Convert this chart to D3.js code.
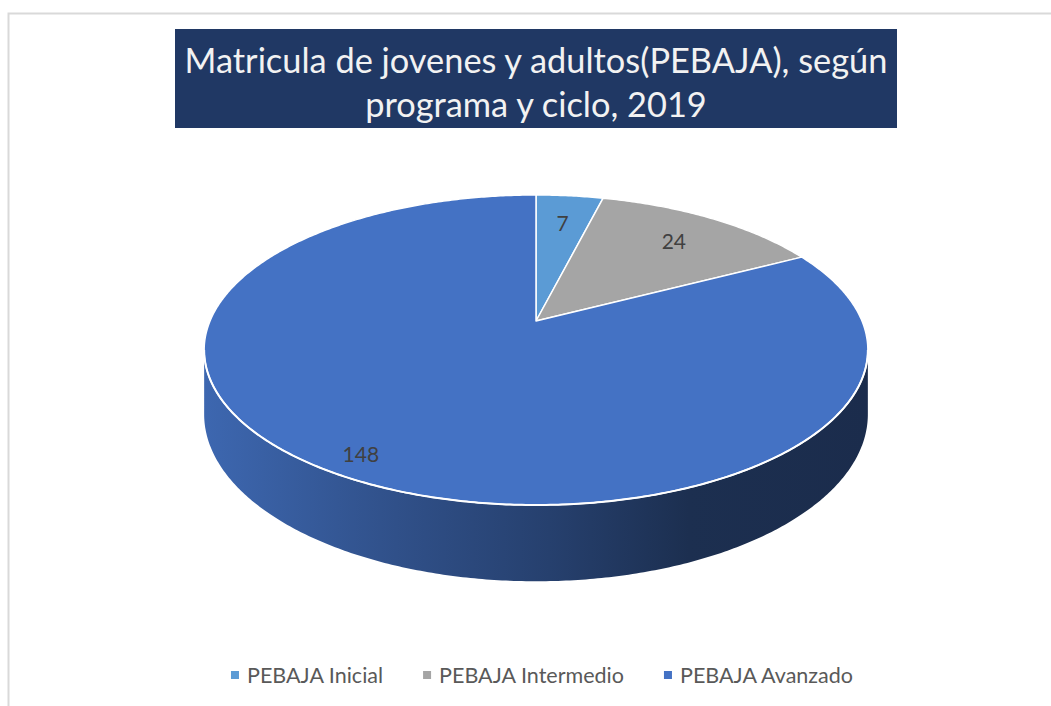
<!DOCTYPE html>
<html>
<head>
<meta charset="utf-8">
<script src="https://cdn.jsdelivr.net/npm/d3@7"></script>
<style>
  html, body { margin: 0; padding: 0; background: #ffffff; }
  svg { display: block; }
</style>
</head>
<body>
<script>
// Enrolment by programme and cycle, 2019
const categories = ["PEBAJA Inicial", "PEBAJA Intermedio", "PEBAJA Avanzado"];
const values = [7, 24, 148];
const colors = ["#5B9BD5", "#A5A5A5", "#4472C4"];
const titleLines = ["Matricula de jovenes y adultos(PEBAJA), según", "programa y ciclo, 2019"];

const W = 1051, H = 706;
const FONT = "Lato, 'Open Sans', 'DejaVu Sans', sans-serif";

const svg = d3.select("body").append("svg")
  .attr("width", W).attr("height", H);

svg.append("rect").attr("width", W).attr("height", H).attr("fill", "#ffffff");

// chart-area frame (top and left edges)
svg.append("path")
  .attr("d", `M8.5,${H} L8.5,13.5 L${W},13.5`)
  .attr("fill", "none").attr("stroke", "#d9d9d9").attr("stroke-width", 2);

// ---- title ----
const tb = { x: 175, y: 29, w: 722, h: 99 };
svg.append("rect")
  .attr("x", tb.x).attr("y", tb.y).attr("width", tb.w).attr("height", tb.h)
  .attr("fill", "#203864");

const titleG = svg.append("g");
const titleText = titleG.selectAll("text").data(titleLines).join("text")
  .attr("x", 536)
  .attr("y", (d, i) => 73 + i * 44)
  .attr("text-anchor", "middle")
  .attr("fill", "#F2F2F2")
  .style("font-family", FONT)
  .style("font-size", "32px")
  .text(d => d);
// size the title so the first line spans the banner
{
  const n = titleText.nodes()[0];
  const w = n.getComputedTextLength();
  const fs = 32 * 703 / w;
  titleText.style("font-size", fs + "px");
}

// ---- 3D pie geometry (projective view of a tilted disc) ----
const cx = 536, cy = 321;
const A = 326, B = 149.6, k = 0.187, depth = 62;

function proj(r, t, h) {
  const X = r * Math.sin(t), Z = -r * Math.cos(t);
  const w = 1 - k * Z;
  return [cx + A * X / w, cy + (B * Z + depth * h) / w];
}

const pie = d3.pie().sort(null).value(d => d.value);
const data = categories.map((c, i) => ({ name: c, value: values[i], color: colors[i] }));
const arcs = pie(data);
const total = d3.sum(values);

const line = d3.line();
function arcPoints(a0, a1, r, h) {
  const n = Math.max(2, Math.ceil(Math.abs(a1 - a0) / 0.01));
  return d3.range(n + 1).map(i => proj(r, a0 + (a1 - a0) * i / n, h));
}

// silhouette angles where the visible wall begins and ends
const tL = Math.acos(-k), tR = 2 * Math.PI - Math.acos(-k);

// wall shading: slice colour scaled down from left (lit) to right (shadow)
function shade(hex, f) {
  const c = d3.rgb(hex);
  return d3.rgb(c.r * f, c.g * f, c.b * f).formatHex();
}
const shadeStops = [[0, 0.90], [0.29, 0.70], [0.52, 0.56], [0.73, 0.41], [1, 0.39]];

const defs = svg.append("defs");
arcs.forEach((d, i) => {
  const g = defs.append("linearGradient")
    .attr("id", "side" + i)
    .attr("gradientUnits", "userSpaceOnUse")
    .attr("x1", cx - A * 1.02).attr("x2", cx + A * 1.02)
    .attr("y1", 0).attr("y2", 0);
  shadeStops.forEach(([o, f]) =>
    g.append("stop").attr("offset", o).attr("stop-color", shade(d.data.color, f)));
});

// walls
const sideG = svg.append("g");
arcs.forEach((d, i) => {
  const s = Math.max(d.startAngle, tL), e = Math.min(d.endAngle, tR);
  if (s >= e) return;
  const pts = arcPoints(s, e, 1, 0).concat(arcPoints(e, s, 1, 1));
  sideG.append("path")
    .attr("d", line(pts) + "Z")
    .attr("fill", `url(#side${i})`);
});

// top faces
const topG = svg.append("g");
topG.selectAll("path").data(arcs).join("path")
  .attr("d", d => line([proj(0, 0, 0)].concat(arcPoints(d.startAngle, d.endAngle, 1, 0))) + "Z")
  .attr("fill", d => d.data.color)
  .attr("stroke", "#ffffff")
  .attr("stroke-width", 1.5)
  .attr("stroke-linejoin", "round");

// light rim along the front edge
svg.append("path")
  .attr("d", line(arcPoints(tL, tR, 1, 0)))
  .attr("fill", "none")
  .attr("stroke", "#ffffff")
  .attr("stroke-width", 2);

// ---- data labels ----
const labelR = d => (d.value / total > 0.5 ? 0.89 : 0.76);
const labels = svg.append("g").selectAll("text").data(arcs).join("text")
  .attr("x", d => proj(labelR(d), (d.startAngle + d.endAngle) / 2, 0)[0])
  .attr("y", d => proj(labelR(d), (d.startAngle + d.endAngle) / 2, 0)[1])
  .attr("text-anchor", "middle")
  .attr("dominant-baseline", "central")
  .attr("fill", "#404040")
  .style("font-family", FONT)
  .style("font-size", "21px")
  .text(d => d.value);

// ---- legend ----
const legend = svg.append("g");
const items = legend.selectAll("g").data(data).join("g");
items.append("rect")
  .attr("width", 8).attr("height", 8)
  .attr("y", -4)
  .attr("fill", d => d.color);
const legText = items.append("text")
  .attr("x", 16)
  .attr("dominant-baseline", "central")
  .attr("fill", "#595959")
  .style("font-family", FONT)
  .style("font-size", "18px")
  .text(d => d.name);
{
  const n = legText.nodes()[1];
  const fs = 18 * 185 / n.getComputedTextLength();
  legText.style("font-size", fs + "px");
}
{
  const widths = legText.nodes().map(n => 16 + n.getComputedTextLength());
  const gap = 40;
  const totalW = d3.sum(widths) + gap * (widths.length - 1);
  let x = 542 - totalW / 2;
  items.each(function (d, i) {
    d3.select(this).attr("transform", `translate(${x},675)`);
    x += widths[i] + gap;
  });
}
</script>
</body>
</html>
